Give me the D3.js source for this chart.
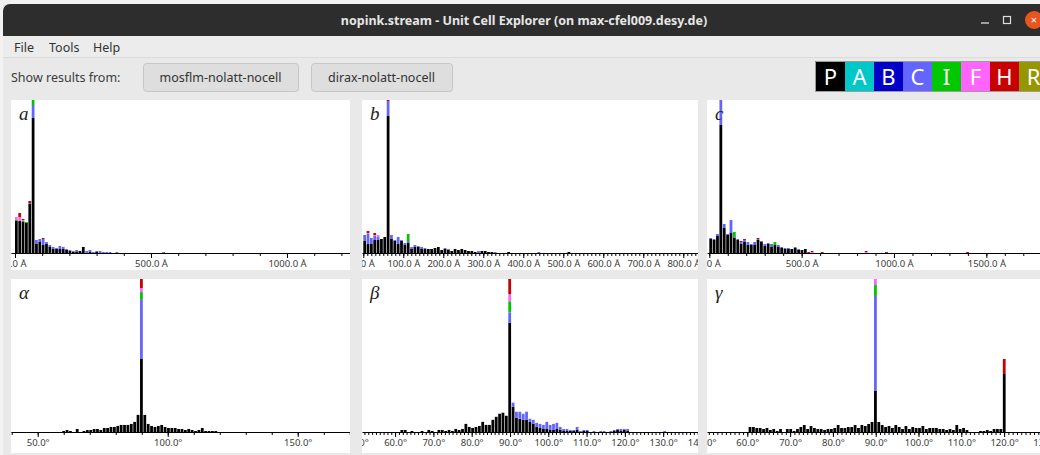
<!DOCTYPE html>
<html>
<head>
<meta charset="utf-8">
<script src="https://cdn.jsdelivr.net/npm/d3@7"></script>
<style>
  body { margin: 0; background: #e8e8e8; overflow: hidden; }
</style>
</head>
<body>
<svg id="win" width="1040" height="455" font-family="'Noto Sans', 'DejaVu Sans', sans-serif"></svg>
<script>
// ---- data ---------------------------------------------------------------------------------------

var windowTitle = "nopink.stream - Unit Cell Explorer (on max-cfel009.desy.de)";
var menuItems = ["File", "Tools", "Help"];
var sources = ["mosflm-nolatt-nocell", "dirax-nolatt-nocell"];

var lattices = ["P", "A", "B", "C", "I", "F", "H", "R"];
var latticeColours = ["#000000", "#00c8c8", "#0000c8", "#6464ff", "#00c800", "#ff64ff", "#c80000", "#969600"];

// a (Å), bins of 12.3 Å from 0
var aRange = [-14.7, 1231.6], aBinStart = 0, aBinWidth = 12.3;
var aTicks = [0, 500, 1000], aMinorStep = 100;
var aP = [32,32,31,30,49,135,9,11,8,9, 6,4,4,4,4,3,2,1,1,2, 6,0,1,0,1];
var aC = [0,0,0,0,1,13,4,3,6,2, 2,2,1,3,2,1,1,1,2,0, 0,2,2,1,1,2,1,1,1,0, 1,0,0,0,0,0,0,0,0,0, 0,0,0,0,1];
var aI = [1,0,1,1,0,5];
var aF = [3,4,1,0,0,0];
var aH = [0,4,1,0,2,0,0,0,1];

// b (Å), bins of 8.37 Å from 0
var bRange = [-3.25, 836.75], bBinStart = 0, bBinWidth = 8.37;
var bTicks = [0, 100, 200, 300, 400, 500, 600, 700, 800], bMinorStep = 10;
var bP = [12,9,9,13,13,14,16,137,14,12, 9,12,8,10,4,6,6,4,4,4, 4,5,6,3,4,3,2,4,3,4,
          3,2,2,1,0,2,2,1,1,0, 0,0,0,1,0,0,0,0,0,0, 0,0,0,0,0,0,0,0,0,0, 0,1];
var bC = [6,10,6,4,3,0,0,15,4,1, 7,1,2,2,2,2,1,2,1,0, 0,0,0,0,1,1,0,0,0,0,
          0,0,0,0,2,0,0,0,0,1, 0,0,0,0,0,0,0,0,0,0, 0,0,1];
var bI = [0,0,0,0,0,0,0,0,0,0, 0,0,0,7];
var bF = [0,1,0,1,2];
var bH = [0,2,0,2,0,0,0,1];

// c (Å), bins of 18.3 Å from 0
var cRange = [-12.5, 1823], cBinStart = 0, cBinWidth = 18.3;
var cTicks = [0, 500, 1000, 1500], cMinorStep = 100;
var cP = [14,13,17,128,25,18,20,15,13,9, 11,8,8,8,13,11,7,9,6,8, 6,5,4,4,4,5,3,3,4];
var cC = [1,1,2,25,4,1,13,1,1,2, 2,3,1,3,1,1,2,1,2,0, 2,1,1,1,0,1,1,0,0];
var cI = [0,0,0,0,0,0,0,5,0,0, 0,0,0,0,0,0,0,0,1,3];
var cF = [0,0,0,0,0,0,0,0,0,0, 0,0,0,0,0,0,0,0,0,0, 0,0,0,0,0,0,0,0,0,0,
          1,0,0,0,0,0,0,0,0,0, 0,0,0,0,0,0,1];
var cH = [0,0,0,0,0,0,0,0,0,1, 1,0,0,0,1,0,0,0,0,0, 0,0,0,0,0,0,0,0,0,1,
          1,0,0,1,0,0,0,0,0,0, 0,0,0,0,0,0,1,0,0,0, 0,0,1,0,0,0,0,0,0,0,
          0,0,0,0,0,0,0,0,0,0, 0,0,0,0,0,0,1];

// alpha (deg), bins of 1.3 deg from 39.95
var alRange = [39.73, 170.1], alBinStart = 39.95, alBinWidth = 1.3;
var alTicks = [50, 100, 150], alMinorStep = 10;
var alP = [0,0,0,0,0,0,0,0,0,0, 0,0,0,0,0,1,2,1,0,3, 0,1,2,2,3,3,2,4,4,5,
           5,6,7,7,7,8,10,17,73,17, 8,6,5,6,7,5,4,4,4,3, 3,2,3,2,1,2,4,1,1,1, 1];
var alC = [0,0,0,0,0,0,0,0,0,0, 0,0,0,0,0,0,0,0,0,0, 0,0,0,0,0,0,0,0,0,0, 0,0,0,0,0,0,0,0,59];
var alI = [0,0,0,0,0,0,0,0,0,0, 0,0,0,0,0,0,0,0,0,0, 0,0,0,0,0,0,0,0,0,0, 0,0,0,0,0,0,0,0,7];
var alF = [0,0,0,0,0,0,0,0,0,0, 0,0,0,0,0,0,0,0,0,0, 0,0,0,0,0,0,0,0,0,0, 0,0,0,0,0,0,0,0,4];
var alH = [0,0,0,0,0,0,0,0,0,0, 0,0,0,0,0,0,0,0,0,0, 0,0,0,0,0,0,0,0,0,0, 0,0,0,0,0,0,0,0,9];

// beta (deg), bins of 0.88 deg from 51.72
var beRange = [51.36, 139.09], beBinStart = 51.72, beBinWidth = 0.88;
var beTicks = [50, 60, 70, 80, 90, 100, 110, 120, 130, 140], beMinorStep = 1;
var beP = [0,0,0,0,0,0,0,0,0,0, 0,2,2,0,1,0,0,1,0,2, 1,0,2,2,1,2,1,3,2,3,
           8,5,4,5,6,10,7,7,12,15, 18,19,16,108,25,14,13,12,12,10, 8,5,4,3,3,2,2,3,2,1,
           1,1,1,2,0,1,1,0,0,0, 0,0,0,0,1,2,1,2,1];
var beC = [0,0,0,0,0,0,0,0,0,0, 0,0,0,0,0,0,0,0,0,0, 0,0,0,0,0,0,0,0,0,0,
           0,0,0,0,0,0,0,0,0,0, 0,0,0,10,4,6,7,6,8,3, 4,4,4,4,7,5,6,6,3,2,
           2,1,1,3,1,1,1,0,1,0, 1,1,0,1,1,1,2,1,2,0, 0,0,0,0,0,0,0,0,0,1];
var beI = [0,0,0,0,0,0,0,0,0,0, 0,0,0,0,0,0,0,0,0,0, 0,0,0,0,0,0,0,0,0,0, 0,0,0,0,0,0,0,0,0,0, 0,0,0,11];
var beF = [0,0,0,0,0,0,0,0,0,0, 0,0,0,0,0,0,0,0,0,0, 0,0,0,0,0,0,0,0,0,0, 0,0,0,0,0,0,0,0,0,0, 0,0,0,7];
var beH = [0,0,0,0,0,0,0,0,0,0, 0,0,0,0,0,0,0,0,0,0, 0,0,0,0,0,0,0,0,0,0, 0,0,0,0,0,0,0,0,0,0, 0,0,0,15];

// gamma (deg), bins of 0.792 deg from 50.8
var gaRange = [50.58, 129.79], gaBinStart = 50.8, gaBinWidth = 0.792;
var gaTicks = [50, 60, 70, 80, 90, 100, 110, 120, 130], gaMinorStep = 1;
var gaP = [0,0,0,0,0,0,0,0,0,0, 0,0,5,5,4,4,3,4,2,3, 1,3,0,3,3,1,3,5,7,3,
           6,4,3,3,2,3,3,4,7,4, 4,5,5,7,4,7,6,8,10,41, 10,7,5,6,4,7,5,3,6,3,
           5,4,4,6,3,4,4,4,3,3, 2,3,2,7,3,4,2,0,0,0, 1,1,2,1,3,3,3,58];
var gaC = [0,0,0,0,0,0,0,0,0,0, 0,0,0,0,0,0,0,0,0,0, 0,0,0,0,0,0,0,0,0,0, 0,0,0,0,0,0,0,0,0,0, 0,0,0,0,0,0,0,0,0,95];
var gaI = [0,0,0,0,0,0,0,0,0,0, 0,0,0,0,0,0,0,0,0,0, 0,0,0,0,0,0,0,0,0,0, 0,0,0,0,0,0,0,0,0,0, 0,0,0,0,0,0,0,0,0,11];
var gaF = [0,0,0,0,0,0,0,0,0,0, 0,0,0,0,0,0,0,0,0,0, 0,0,0,0,0,0,0,0,0,0, 0,0,0,0,0,0,0,0,0,0, 0,0,0,0,0,0,0,0,0,6];
var gaH = [0,0,0,0,0,0,0,0,0,0, 0,0,0,0,0,0,0,0,0,0, 0,0,0,0,0,0,0,0,0,0, 0,0,0,0,0,0,0,0,0,0,
           0,0,0,0,0,0,0,0,0,0, 0,0,0,0,0,0,0,0,0,0, 0,0,0,0,0,0,0,0,0,0, 0,0,0,0,0,0,0,0,0,0,
           0,0,0,0,0,0,0,15];

// ---- window chrome ------------------------------------------------------------------------------

var svg = d3.select("#win");

svg.append("rect").attr("x", 0).attr("y", 0).attr("width", 1040).attr("height", 455).attr("fill", "#f2f2f2");
svg.append("rect").attr("x", 3).attr("y", 4).attr("width", 1040).attr("height", 455).attr("fill", "#e9e9e9");

// title bar
svg.append("rect").attr("x", 3).attr("y", 4).attr("width", 1045).attr("height", 32).attr("rx", 7).attr("fill", "#2d2d2d");
svg.append("rect").attr("x", 3).attr("y", 24).attr("width", 1045).attr("height", 12).attr("fill", "#2d2d2d");
svg.append("text").attr("x", 524).attr("y", 25).attr("text-anchor", "middle")
  .attr("font-size", "12.5px").attr("font-weight", "bold").attr("fill", "#e6e6e6")
  .text(windowTitle);
svg.append("line").attr("x1", 981).attr("x2", 989).attr("y1", 23).attr("y2", 23)
  .attr("stroke", "#dddddd").attr("stroke-width", 1.3);
svg.append("rect").attr("x", 1003.5).attr("y", 16.5).attr("width", 7).attr("height", 7)
  .attr("fill", "none").attr("stroke", "#dddddd").attr("stroke-width", 1.2);
svg.append("circle").attr("cx", 1034).attr("cy", 20).attr("r", 9).attr("fill", "#e9541f");
svg.append("text").attr("x", 1034).attr("y", 24).attr("text-anchor", "middle")
  .attr("font-size", "11px").attr("fill", "#ffffff").text("×");

// menu bar
svg.append("rect").attr("x", 3).attr("y", 36).attr("width", 1040).attr("height", 21).attr("fill", "#ececec");
svg.append("line").attr("x1", 3).attr("x2", 1040).attr("y1", 57.5).attr("y2", 57.5).attr("stroke", "#dcdcdc");
var menuX = [14, 49, 93];
svg.selectAll(".menu").data(menuItems).enter().append("text")
  .attr("class", "menu")
  .attr("x", function(d, i) { return menuX[i]; })
  .attr("y", 52)
  .attr("font-size", "12.5px").attr("fill", "#333333")
  .text(function(d) { return d; });

// toolbar
svg.append("text").attr("x", 11).attr("y", 82).attr("font-size", "12.5px").attr("fill", "#3c3c3c")
  .text("Show results from:");
var buttonBoxes = [[143, 298], [311, 452]];
var buttons = svg.selectAll(".btn").data(sources).enter().append("g").attr("class", "btn");
buttons.append("rect")
  .attr("x", function(d, i) { return buttonBoxes[i][0] + 0.5; })
  .attr("y", 63.5)
  .attr("width", function(d, i) { return buttonBoxes[i][1] - buttonBoxes[i][0]; })
  .attr("height", 28).attr("rx", 3)
  .attr("fill", "#dedede").attr("stroke", "#c6c6c6");
buttons.append("text")
  .attr("x", function(d, i) { return (buttonBoxes[i][0] + buttonBoxes[i][1]) / 2; })
  .attr("y", 82).attr("text-anchor", "middle")
  .attr("font-size", "12.5px").attr("fill", "#333333")
  .text(function(d) { return d; });

// lattice legend
var legendX = d3.scaleBand().domain(lattices).range([816, 816 + 29 * lattices.length]);
var legend = svg.selectAll(".lat").data(lattices).enter().append("g").attr("class", "lat");
legend.append("rect")
  .attr("x", function(d) { return legendX(d); })
  .attr("y", 62).attr("width", legendX.bandwidth()).attr("height", 29)
  .attr("fill", function(d, i) { return latticeColours[i]; });
legend.append("text")
  .attr("x", function(d) { return legendX(d) + legendX.bandwidth() / 2; })
  .attr("y", 84.5).attr("text-anchor", "middle")
  .attr("font-size", "22px").attr("fill", "#ffffff")
  .text(function(d) { return d; });
svg.append("rect").attr("x", 815.5).attr("y", 61.5).attr("width", 240).attr("height", 30)
  .attr("fill", "none").attr("stroke", "#6a6a6a").attr("stroke-width", 0.6);

// ---- histograms ---------------------------------------------------------------------------------

var panels = [
  {name: "a", x0: 11,  x1: 350,  top: 100, bottom: 270, axisY: 253, range: aRange, start: aBinStart, width: aBinWidth,
   ticks: aTicks, minor: aMinorStep, unit: " Å", series: {P: aP, C: aC, I: aI, F: aF, H: aH}},
  {name: "b", x0: 362, x1: 698,  top: 100, bottom: 270, axisY: 253, range: bRange, start: bBinStart, width: bBinWidth,
   ticks: bTicks, minor: bMinorStep, unit: " Å", series: {P: bP, C: bC, I: bI, F: bF, H: bH}},
  {name: "c", x0: 707, x1: 1046, top: 100, bottom: 270, axisY: 253, range: cRange, start: cBinStart, width: cBinWidth,
   ticks: cTicks, minor: cMinorStep, unit: " Å", series: {P: cP, C: cC, I: cI, F: cF, H: cH}},
  {name: "α", x0: 11,  x1: 350,  top: 279, bottom: 453, axisY: 432, range: alRange, start: alBinStart, width: alBinWidth,
   ticks: alTicks, minor: alMinorStep, unit: "°", series: {P: alP, C: alC, I: alI, F: alF, H: alH}},
  {name: "β", x0: 362, x1: 698,  top: 279, bottom: 453, axisY: 432, range: beRange, start: beBinStart, width: beBinWidth,
   ticks: beTicks, minor: beMinorStep, unit: "°", series: {P: beP, C: beC, I: beI, F: beF, H: beH}},
  {name: "γ", x0: 707, x1: 1046, top: 279, bottom: 453, axisY: 432, range: gaRange, start: gaBinStart, width: gaBinWidth,
   ticks: gaTicks, minor: gaMinorStep, unit: "°", series: {P: gaP, C: gaC, I: gaI, F: gaF, H: gaH}}
];

var stack = d3.stack().keys(lattices);

panels.forEach(function(p, pi) {
  var clipId = "clip" + pi;
  svg.append("clipPath").attr("id", clipId)
    .append("rect").attr("x", p.x0).attr("y", p.top).attr("width", p.x1 - p.x0).attr("height", p.bottom - p.top);

  var g = svg.append("g").attr("clip-path", "url(#" + clipId + ")");
  g.append("rect").attr("x", p.x0).attr("y", p.top).attr("width", p.x1 - p.x0).attr("height", p.bottom - p.top)
    .attr("fill", "#ffffff");

  // one row per bin, all lattices present
  var nBins = d3.max(Object.values(p.series), function(s) { return s.length; });
  var rows = d3.range(nBins).map(function(i) {
    var row = {bin: p.start + i * p.width};
    lattices.forEach(function(l) {
      var s = p.series[l];
      row[l] = (s && s[i]) ? s[i] : 0;
    });
    return row;
  });

  var x = d3.scaleLinear().domain(p.range).range([p.x0, p.x1]);
  var y = d3.scaleLinear()
    .domain([0, d3.max(rows, function(r) { return d3.sum(lattices, function(l) { return r[l]; }); })])
    .range([p.axisY, p.top]);

  var layers = g.selectAll(".layer").data(stack(rows)).enter().append("g")
    .attr("fill", function(d, i) { return latticeColours[i]; });

  layers.selectAll("rect")
    .data(function(d) { return d.filter(function(v) { return v[1] > v[0]; }); })
    .enter().append("rect")
    .attr("x", function(d) { return x(d.data.bin); })
    .attr("width", function(d) { return x(d.data.bin + p.width) - x(d.data.bin) - 0.6; })
    .attr("y", function(d) { return y(d[1]); })
    .attr("height", function(d) { return y(d[0]) - y(d[1]); });

  // minor ticks
  var minorVals = d3.range(Math.ceil(p.range[0] / p.minor) * p.minor, p.range[1], p.minor);
  g.append("g").attr("transform", "translate(0," + p.axisY + ")")
    .call(d3.axisBottom(x).tickValues(minorVals).tickFormat("").tickSize(3).tickSizeOuter(0))
    .call(function(s) { s.select(".domain").remove(); })
    .selectAll("line").attr("stroke", "#000000");

  // major ticks and labels
  var axis = g.append("g").attr("transform", "translate(0," + p.axisY + ")")
    .call(d3.axisBottom(x).tickValues(p.ticks)
      .tickFormat(function(d) { return d.toFixed(1) + p.unit; })
      .tickSize(5).tickSizeOuter(0).tickPadding(2));
  axis.attr("font-family", null);
  axis.select(".domain").attr("stroke", "#000000").attr("stroke-width", 1.2);
  axis.selectAll("line").attr("stroke", "#000000");
  axis.selectAll("text")
    .style("font-family", "'Noto Sans', sans-serif")
    .style("font-size", "9.5px").attr("fill", "#3a3a3a");

  g.append("text")
    .attr("x", p.x0 + 8).attr("y", p.top + 20)
    .style("font-family", "'Liberation Serif', 'DejaVu Serif', serif")
    .style("font-style", "italic").style("font-size", "19px").attr("fill", "#222222")
    .text(p.name);
});
</script>
</body>
</html>
